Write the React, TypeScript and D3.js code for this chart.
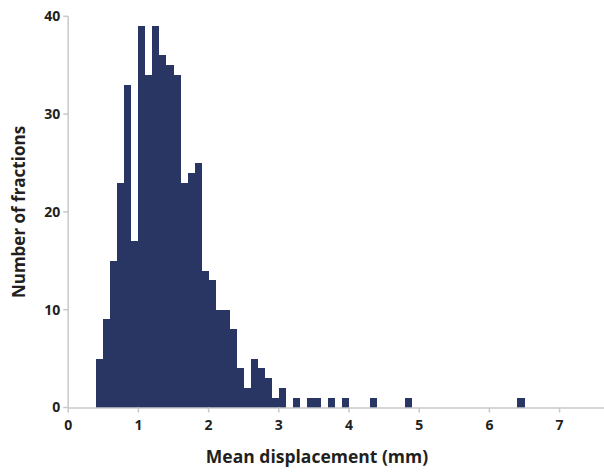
import React from "react";
import * as d3 from "d3";

const binStarts = [
  0.4, 0.5, 0.6, 0.7, 0.8, 0.9, 1.0, 1.1, 1.2, 1.3, 1.4, 1.5, 1.6, 1.7, 1.8, 1.9,
  2.0, 2.1, 2.2, 2.3, 2.4, 2.5, 2.6, 2.7, 2.8, 2.9, 3.0, 3.2, 3.4, 3.5, 3.7, 3.9,
  4.3, 4.8, 6.4,
];
const counts = [
  5, 9, 15, 23, 33, 17, 39, 34, 39, 36, 35, 34, 23, 24, 25, 14,
  13, 10, 10, 8, 4, 2, 5, 4, 3, 1, 2, 1, 1, 1, 1, 1,
  1, 1, 1,
];
const binWidth = 0.1;
const xTicks = [0, 1, 2, 3, 4, 5, 6, 7];
const yTicks = [0, 10, 20, 30, 40];
const xTitle = "Mean displacement (mm)";
const yTitle = "Number of fractions";

const W = 604;
const H = 475;
const FONT = "'Open Sans', 'DejaVu Sans', sans-serif";
const TEXT = "#231f20";
const AXIS = "#c9c9c9";
const BAR = "#293563";

export default function App() {
  const x = d3.scaleLinear().domain([0, 7]).range([68.2, 559.6]);
  const y = d3.scaleLinear().domain([0, 40]).range([407.5, 16.3]);
  const bars = binStarts.map((s, i) => ({ s, c: counts[i] }));

  return (
    <svg
      width={W}
      height={H}
      style={{ position: "absolute", left: 0, top: 0, background: "#fff" }}
    >
      <g shapeRendering="crispEdges">
        {bars.map((b, i) => (
          <rect
            key={i}
            x={x(b.s)}
            y={y(b.c)}
            width={x(b.s + binWidth) - x(b.s)}
            height={y(0) - y(b.c)}
            fill={BAR}
          />
        ))}
      </g>
      {/* y axis */}
      <line x1={x(0)} x2={x(0)} y1={y(40)} y2={y(0)} stroke={AXIS} strokeWidth={1.5} />
      {yTicks.map((t) => (
        <g key={t}>
          <line x1={x(0) - 5} x2={x(0)} y1={y(t)} y2={y(t)} stroke={AXIS} strokeWidth={1.5} />
          <text
            x={x(0) - 8}
            y={y(t)}
            dy="0.35em"
            textAnchor="end"
            fontFamily={FONT}
            fontWeight={700}
            fontSize={14}
            fill={TEXT}
          >
            {t}
          </text>
        </g>
      ))}
      {/* x axis */}
      <line x1={x(0)} x2={W} y1={y(0) + 0.5} y2={y(0) + 0.5} stroke={AXIS} strokeWidth={1.5} />
      {xTicks.map((t) => (
        <g key={t}>
          <line x1={x(t)} x2={x(t)} y1={y(0)} y2={y(0) + 5} stroke={AXIS} strokeWidth={1.5} />
          <text
            x={x(t)}
            y={y(0) + 18}
            dy="0.35em"
            textAnchor="middle"
            fontFamily={FONT}
            fontWeight={700}
            fontSize={14}
            fill={TEXT}
          >
            {t}
          </text>
        </g>
      ))}
      <text
        x={317}
        y={463}
        textAnchor="middle"
        fontFamily={FONT}
        fontWeight={700}
        fontSize={17.5}
        fill={TEXT}
      >
        {xTitle}
      </text>
      <text
        transform={`translate(25, 212) rotate(-90)`}
        textAnchor="middle"
        fontFamily={FONT}
        fontWeight={700}
        fontSize={17}
        fill={TEXT}
      >
        {yTitle}
      </text>
    </svg>
  );
}
